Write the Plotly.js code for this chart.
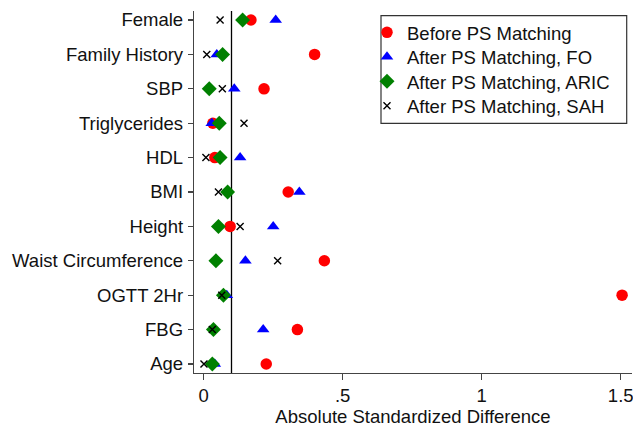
<!DOCTYPE html>
<html>
<head>
<meta charset="utf-8">
<script src="https://cdn.plot.ly/plotly-3.0.1.min.js"></script>
<style>html,body{margin:0;padding:0;background:#fff;}#chart{width:633px;height:427px;}</style>
</head>
<body>
<div id="chart"></div>
<script>
// Covariates, top to bottom
const categories = ['Female', 'Family History', 'SBP', 'Triglycerides', 'HDL', 'BMI', 'Height', 'Waist Circumference', 'OGTT 2Hr', 'FBG', 'Age'];
const beforePS = [0.170, 0.399, 0.217, 0.033, 0.040, 0.304, 0.095, 0.434, 1.505, 0.337, 0.225];
const afterFO = [0.259, 0.047, 0.110, 0.029, 0.131, 0.344, 0.250, 0.150, 0.083, 0.214, 0.040];
const afterARIC = [0.140, 0.068, 0.020, 0.056, 0.059, 0.086, 0.053, 0.044, 0.071, 0.035, 0.031];
const afterSAH = [0.059, 0.011, 0.067, 0.145, 0.008, 0.053, 0.131, 0.266, 0.065, 0.031, 0.001];
const seriesNames = ['Before PS Matching', 'After PS Matching, FO', 'After PS Matching, ARIC', 'After PS Matching, SAH'];
const xTickVals = [0, 0.5, 1, 1.5];
const xTickText = ['0', '.5', '1', '1.5'];
const threshold = 0.1;

const FONT = 'Liberation Sans, Arial, Helvetica, sans-serif';
const FS = 18.5;
const L = 194, R = 1, T = 11, B = 54, W = 633, H = 427;
const pw = W - L - R, ph = H - T - B;
const px2x = p => (p - L) / pw;
const px2y = p => 1 - (p - T) / ph;

const legendNames = ['legend', 'legend2', 'legend3', 'legend4'];
const legendRowCenters = [32, 56.5, 81, 105.5];

const traces = [
  {x: beforePS, y: categories, name: seriesNames[0], legend: legendNames[0], type: 'scatter', mode: 'markers',
   marker: {symbol: 'circle', size: 11.5, color: '#ff0000'}},
  {x: afterFO, y: categories, name: seriesNames[1], legend: legendNames[1], type: 'scatter', mode: 'markers',
   marker: {symbol: 'triangle-up', size: 11, color: '#0000ff'}},
  {x: afterARIC, y: categories, name: seriesNames[2], legend: legendNames[2], type: 'scatter', mode: 'markers',
   marker: {symbol: 'diamond', size: 11.5, color: '#008000'}},
  {x: afterSAH, y: categories, name: seriesNames[3], legend: legendNames[3], type: 'scatter', mode: 'markers',
   marker: {symbol: 'x-thin', size: 7, color: '#000', line: {color: '#000', width: 1.4}}}
];

const layout = {
  width: W, height: H,
  margin: {l: L, r: R, t: T, b: B, pad: 0},
  paper_bgcolor: '#fff', plot_bgcolor: '#fff',
  font: {family: FONT, size: FS, color: '#111'},
  showlegend: true,
  hovermode: false,
  xaxis: {
    range: [(L - 203.7) / 278, (W - R - 203.7) / 278],
    tickvals: xTickVals, ticktext: xTickText,
    ticks: 'outside', ticklen: 6, tickwidth: 1.2, tickcolor: '#444',
    showline: true, linecolor: '#444', linewidth: 1.2,
    showgrid: false, zeroline: false,
    ticklabeloverflow: 'allow',
    tickfont: {size: FS},
    title: {text: 'Absolute Standardized Difference', font: {size: FS}, standoff: 10}
  },
  yaxis: {
    type: 'category',
    categoryorder: 'array', categoryarray: categories.slice().reverse(),
    range: [-0.262, categories.length - 1 + 0.262],
    ticks: 'outside', ticklen: 5, tickwidth: 1.2, tickcolor: '#444',
    showline: true, linecolor: '#444', linewidth: 1.2,
    showgrid: false, zeroline: false,
    tickfont: {size: FS},
    ticklabelstandoff: 1
  },
  shapes: [
    {type: 'line', xref: 'x', yref: 'paper', x0: threshold, x1: threshold, y0: 0, y1: 1,
     line: {color: '#000', width: 1.3}, layer: 'below'},
    {type: 'rect', xref: 'paper', yref: 'paper', x0: px2x(381), x1: px2x(626.7), y0: px2y(123.3), y1: px2y(15.7),
     line: {color: '#333', width: 1.2}, fillcolor: 'rgba(0,0,0,0)', layer: 'below'}
  ]
};

legendNames.forEach((nm, i) => {
  layout[nm] = {
    x: px2x(367), y: px2y(legendRowCenters[i] - 18.2), xanchor: 'left', yanchor: 'top',
    bgcolor: 'rgba(0,0,0,0)', borderwidth: 0,
    font: {size: FS, family: FONT, color: '#111'}
  };
});

Plotly.newPlot('chart', traces, layout, {staticPlot: true, displayModeBar: false});
</script>
</body>
</html>
